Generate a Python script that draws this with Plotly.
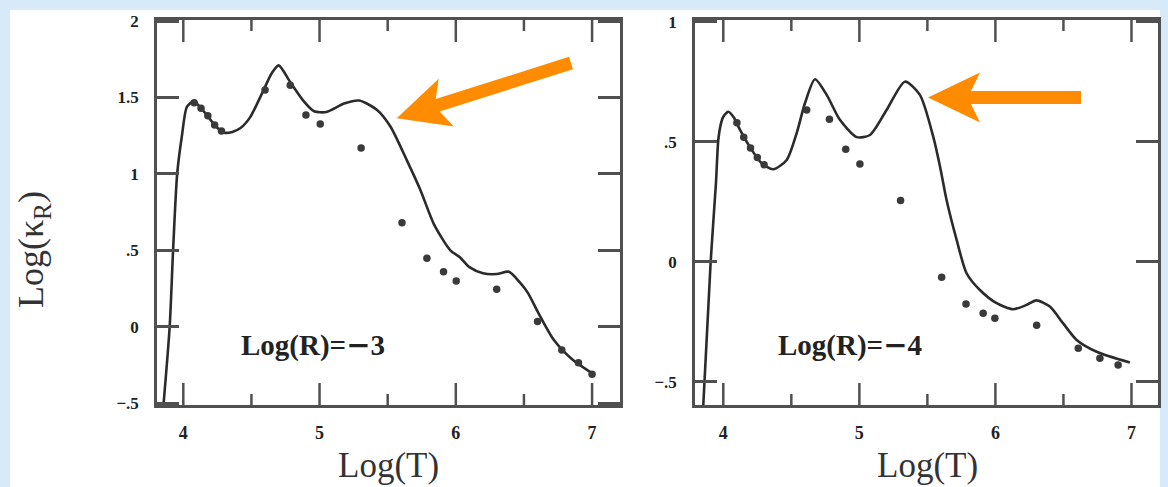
import plotly.graph_objects as go

# Rosseland mean opacity vs temperature, two panels (log R = -3 and -4)
# Solid curve: model opacity; dots: comparison values
T_curve_r3 = [3.85, 3.90, 3.925, 3.955, 3.99, 4.027, 4.076, 4.13, 4.186, 4.24, 4.30, 4.36,
              4.42, 4.49, 4.59, 4.65, 4.70, 4.785, 4.88, 4.96, 5.05, 5.18, 5.29, 5.42,
              5.52, 5.64, 5.74, 5.84, 5.96, 6.03, 6.10, 6.20, 6.30, 6.39, 6.47, 6.53,
              6.60, 6.72, 6.86, 7.01]
K_curve_r3 = [-0.56, 0.0, 0.5, 1.0, 1.25, 1.44, 1.475, 1.43, 1.37, 1.31, 1.27, 1.275,
              1.30, 1.37, 1.55, 1.66, 1.71, 1.60, 1.48, 1.41, 1.405, 1.46, 1.48, 1.42,
              1.31, 1.09, 0.895, 0.67, 0.50, 0.455, 0.39, 0.35, 0.345, 0.36, 0.29, 0.22,
              0.10, -0.087, -0.218, -0.31]
T_pts_r3 = [4.08, 4.13, 4.18, 4.23, 4.28, 4.60, 4.785, 4.90, 5.005, 5.305, 5.605, 5.788,
            5.91, 6.003, 6.30, 6.60, 6.778, 6.90, 7.00]
K_pts_r3 = [1.465, 1.43, 1.38, 1.32, 1.28, 1.549, 1.58, 1.385, 1.327, 1.17, 0.681, 0.448,
            0.36, 0.30, 0.245, 0.035, -0.152, -0.236, -0.31]

T_curve_r4 = [3.848, 3.907, 3.946, 3.963, 3.98, 4.0, 4.037, 4.08, 4.123, 4.209, 4.282,
              4.367, 4.466, 4.539, 4.60, 4.674, 4.76, 4.857, 4.98, 5.078, 5.20, 5.335,
              5.445, 5.543, 5.592, 5.641, 5.715, 5.788, 5.886, 6.009, 6.131, 6.229, 6.30,
              6.40, 6.498, 6.597, 6.744, 6.988]
K_curve_r4 = [-0.65, 0.0, 0.328, 0.508, 0.57, 0.605, 0.626, 0.60, 0.55, 0.467, 0.411,
              0.386, 0.425, 0.536, 0.661, 0.761, 0.696, 0.592, 0.52, 0.529, 0.633, 0.751,
              0.696, 0.522, 0.40, 0.258, 0.092, -0.047, -0.117, -0.172, -0.197, -0.179,
              -0.16, -0.186, -0.256, -0.325, -0.374, -0.419]
T_pts_r4 = [4.10, 4.15, 4.20, 4.25, 4.30, 4.613, 4.78, 4.90, 5.004, 5.303, 5.605, 5.784,
            5.91, 5.996, 6.303, 6.609, 6.768, 6.902]
K_pts_r4 = [0.58, 0.52, 0.475, 0.435, 0.405, 0.633, 0.594, 0.47, 0.408, 0.256, -0.064,
            -0.175, -0.214, -0.235, -0.264, -0.36, -0.401, -0.429]

x_major = [4, 5, 6, 7]
x_major_text = ["4", "5", "6", "7"]
x_minor = [4.5, 5.5, 6.5]
y_ticks_r3 = [-0.5, 0, 0.5, 1, 1.5, 2]
y_text_r3 = ["\u2212.5", "0", ".5", "1", "1.5", "2"]
y_ticks_r4 = [-0.5, 0, 0.5, 1]
y_text_r4 = ["\u2212.5", "0", ".5", "1"]
panel_values = ["3", "4"]

# page geometry (pixels)
W, H = 1168, 487
ML, MR, MT, MB = 157, 10, 20, 82
PW, PH = W - ML - MR, H - MT - MB
MAJOR_LEN, MINOR_LEN = 22, 11

INK = "#2b2b2b"
FRAME = "#505050"
SERIF = "Liberation Serif, Times New Roman, serif"


def px(x):
    return (x - ML) / PW


def py(y):
    return (H - MB - y) / PH


fig = go.Figure()
for T, K, xa, ya in [(T_curve_r3, K_curve_r3, "x", "y"), (T_curve_r4, K_curve_r4, "x2", "y2")]:
    fig.add_trace(go.Scatter(x=T, y=K, mode="lines", xaxis=xa, yaxis=ya,
                             line=dict(color=INK, width=2.6, shape="spline", smoothing=0.7),
                             showlegend=False, hoverinfo="skip"))
for T, K, xa, ya in [(T_pts_r3, K_pts_r3, "x", "y"), (T_pts_r4, K_pts_r4, "x2", "y2")]:
    fig.add_trace(go.Scatter(x=T, y=K, mode="markers", xaxis=xa, yaxis=ya,
                             marker=dict(color="#3a3a3a", size=7.5),
                             showlegend=False, hoverinfo="skip"))

frame = dict(showline=True, linecolor=FRAME, linewidth=2.5, mirror=True,
             showgrid=False, zeroline=False)
xaxis_style = dict(
    ticks="", tickmode="array", tickvals=x_major, ticktext=x_major_text,
    ticklabelstandoff=10,
    tickfont=dict(family=SERIF, size=18, color="#222", weight="bold"), **frame)
yaxis_style = dict(
    ticks="inside", ticklen=MAJOR_LEN, tickwidth=2.5, tickcolor=FRAME, ticklabelstandoff=12,
    tickfont=dict(family=SERIF, size=17, color="#222", weight="bold"),
    **{**frame, "mirror": "allticks"})

gap = (695 - ML) / PW
fig.update_layout(
    width=W, height=H,
    margin=dict(l=ML, r=MR, t=MT, b=MB, autoexpand=False),
    paper_bgcolor="#d6eafa", plot_bgcolor="white",
    xaxis=dict(domain=[0, (620 - ML) / PW], range=[3.807, 7.205], anchor="y", **xaxis_style),
    yaxis=dict(domain=[0, 1], range=[-0.512, 2.007], anchor="x",
               tickvals=y_ticks_r3, ticktext=y_text_r3, **yaxis_style),
    xaxis2=dict(domain=[gap, 1], range=[3.792, 7.195], anchor="y2", **xaxis_style),
    yaxis2=dict(domain=[0, 1], range=[-0.596, 1.008], anchor="x2",
                tickvals=y_ticks_r4, ticktext=y_text_r4, **yaxis_style),
)

# temperature ticks on the bottom and top frame edges, pointing inward
for xr, yr in [("x", "y domain"), ("x2", "y2 domain")]:
    for vals, length in [(x_major, MAJOR_LEN), (x_minor, MINOR_LEN)]:
        h = length / PH
        for v in vals:
            for y0, y1 in [(0, h), (1 - h, 1)]:
                fig.add_shape(type="line", xref=xr, yref=yr, x0=v, x1=v, y0=y0, y1=y1,
                              line=dict(color=FRAME, width=2.5), layer="above")

# white page behind both panels
fig.add_shape(type="rect", xref="paper", yref="paper", layer="below",
              x0=px(10), x1=px(1160), y0=py(H + 5), y1=py(10),
              fillcolor="white", line=dict(width=0))

# panel labels: bold serif with a wide minus sign
for val, (x, y, xr, yr) in zip(panel_values, [(4.954, -0.12, "x", "y"), (4.931, -0.346, "x2", "y2")]):
    fig.add_annotation(
        x=x, y=y, xref=xr, yref=yr, showarrow=False, xanchor="center", yanchor="middle",
        text=("<b>Log(R)=<span style='font-family:DejaVu Serif'>\u2212</span>" + val + "</b>"),
        font=dict(family=SERIF, size=29, color="#222"))

# axis titles
for cx in (388, 927):
    fig.add_annotation(x=px(cx), y=py(465), xref="paper", yref="paper", text="Log(T)",
                       xanchor="center", yanchor="middle",
                       showarrow=False, font=dict(family=SERIF, size=35, color="#333"))
fig.add_annotation(x=px(33), y=py(250), xref="paper", yref="paper",
                   text="Log(\u03ba<sub>R</sub>)", textangle=-90, showarrow=False,
                   xanchor="center", yanchor="middle",
                   font=dict(family=SERIF, size=36, color="#333"))


# orange pointer arrows, built in pixel space
def arrow_path(tip, tail, head_len=52, notch=43, head_half=25, shaft_half=6.5):
    dx, dy = tip[0] - tail[0], tip[1] - tail[1]
    L = (dx * dx + dy * dy) ** 0.5
    ux, uy = dx / L, dy / L
    nx, ny = -uy, ux

    def pt(back, side, base=tip):
        return (base[0] - back * ux + side * nx, base[1] - back * uy + side * ny)

    pts = [tip, pt(head_len, head_half), pt(notch, shaft_half),
           pt(0, shaft_half, tail), pt(0, -shaft_half, tail),
           pt(notch, -shaft_half), pt(head_len, -head_half)]
    return "M " + " L ".join(f"{px(x):.5f},{py(y):.5f}" for x, y in pts) + " Z"


for tip, tail in [((396.7, 118.3), (571.0, 63.0)), ((928.0, 97.5), (1081.0, 97.5))]:
    fig.add_shape(type="path", xref="paper", yref="paper", path=arrow_path(tip, tail),
                  fillcolor="#ff8c00", line=dict(width=0), layer="above")

fig.write_html("out.html")
